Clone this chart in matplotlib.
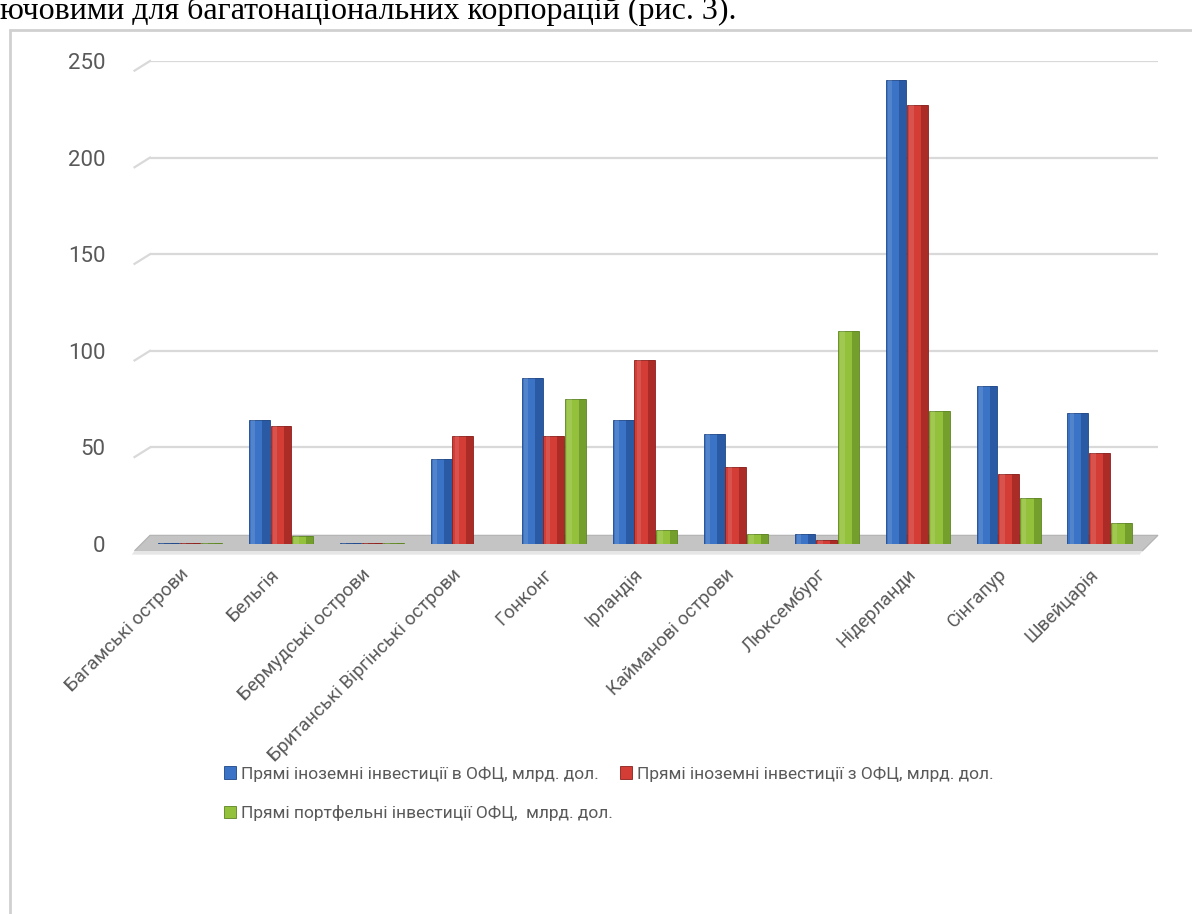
import numpy as np
import matplotlib.pyplot as plt
from matplotlib.patches import Polygon, Rectangle

# --- DATA ---
countries = ['Багамські острови', 'Бельгія', 'Бермудські острови',
             'Британські Віргінські острови', 'Гонконг', 'Ірландія',
             'Кайманові острови', 'Люксембург', 'Нідерланди', 'Сінгапур',
             'Швейцарія']
fdi_in = [0.5, 64, 0.5, 44, 86, 64, 57, 5, 240, 82, 68]
fdi_out = [0.5, 61, 0.5, 56, 56, 95, 40, 2, 227, 36, 47]
portfolio = [0.5, 4, 0.5, 0, 75, 7, 5, 110, 69, 24, 11]
yticks = [0, 50, 100, 150, 200, 250]

series_names = ['Прямі іноземні інвестиції в ОФЦ, млрд. дол.',
                'Прямі іноземні інвестиції з ОФЦ, млрд. дол.',
                'Прямі портфельні інвестиції ОФЦ,  млрд. дол.']

# face colour, dark side colour
colors = [('#3b74c6', '#1d4687'), ('#d43c36', '#8a1f1b'), ('#93c13c', '#5b8421')]

plt.rcParams['font.family'] = ['Roboto', 'DejaVu Sans']
TXT = '#595959'

fig = plt.figure(figsize=(11.92, 9.14), dpi=100)

# document text line cut off at the top
fig.text(0.0, 1 - 19 / 914, 'ючовими для багатонаціональних корпорацій (рис. 3).',
         family=['Liberation Serif', 'DejaVu Serif'], fontsize=23, color='black',
         ha='left', va='baseline')

# chart frame
fig.patches.append(Rectangle((10 / 1192, -0.1), 1.2, 1 - 30 / 914 + 0.1,
                             transform=fig.transFigure, fill=False,
                             edgecolor='#d0d0d0', lw=2))

ax = fig.add_axes([150 / 1192, 1 - 544 / 914, 1008 / 1192, (544 - 61) / 914])
x = np.arange(len(countries))
xmin, xmax = -0.44, 10.64
ax.set_xlim(xmin, xmax)
ax.set_ylim(0, 250)

# back-wall gridlines with a small perspective stub on the left
dx = 0.17
for v in yticks[1:]:
    ax.plot([xmin, xmax], [v, v], color='#d9d9d9', lw=1.6, zorder=0)
    ax.plot([xmin - dx, xmin], [v - 5, v], color='#d9d9d9', lw=1.6,
            clip_on=False, zorder=0)

# floor
floor = Polygon([(xmin, 4.5), (xmax, 4.5), (xmax - dx, -3.5), (xmin - dx, -3.5)],
                closed=True, facecolor='#c4c4c4', edgecolor='#b0b0b0', lw=0.8,
                clip_on=False, zorder=1)
ax.add_patch(floor)
ax.add_patch(Polygon([(xmin - dx, -3.5), (xmax - dx, -3.5), (xmax - dx - 0.03, -5.5),
                      (xmin - dx - 0.03, -5.5)], closed=True, facecolor='#e6e6e6',
                     edgecolor='none', clip_on=False, zorder=1))

w = 0.23
offsets = [-0.24, 0.0, 0.24]
handles = []
for vals, off, (face, dark), name in zip([fdi_in, fdi_out, portfolio], offsets,
                                         colors, series_names):
    vals = np.array(vals)
    h = ax.bar(x + off, vals, width=w, color=face, edgecolor=dark, lw=0.6,
               zorder=3, label=name)
    handles.append(h)
    # darker right side to hint at the 3D look
    ax.bar(x + off + w * 0.32, vals, width=w * 0.36, color=dark, alpha=0.55,
           lw=0, zorder=4)
    # light highlight on the left
    ax.bar(x + off - w * 0.3, vals, width=w * 0.2, color='white', alpha=0.12,
           lw=0, zorder=4)

for s in ax.spines.values():
    s.set_visible(False)
ax.set_yticks(yticks)
ax.set_yticklabels([str(v) for v in yticks])
ax.tick_params(axis='y', length=0, pad=32, labelsize=16, labelcolor=TXT)
ax.set_xticks([])
for xi, name in zip(x, countries):
    ax.text(xi - 0.12, -11, name, rotation=45, rotation_mode='anchor',
            ha='right', va='top', fontsize=13.5, color=TXT)

# legend
fig.legend(handles=handles[:2], labels=series_names[:2], ncol=2,
           loc='center left', bbox_to_anchor=(208 / 1192, 1 - 774 / 914),
           frameon=False, fontsize=12.5, handlelength=0.7, handleheight=0.7,
           handletextpad=0.3, columnspacing=1.2, labelcolor=TXT)
fig.legend(handles=handles[2:], labels=series_names[2:],
           loc='center left', bbox_to_anchor=(208 / 1192, 1 - 813 / 914),
           frameon=False, fontsize=12.5, handlelength=0.7, handleheight=0.7,
           handletextpad=0.3, labelcolor=TXT)

fig.savefig('out.png', dpi=100)
